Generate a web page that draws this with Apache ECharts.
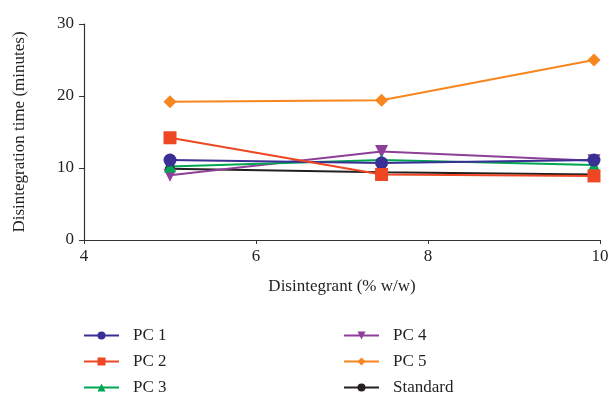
<!DOCTYPE html>
<html>
<head>
<meta charset="utf-8">
<script src="https://cdn.jsdelivr.net/npm/echarts@6/dist/echarts.min.js"></script>
<style>html,body{margin:0;padding:0;background:#fff}#c{width:613px;height:400px}</style>
</head>
<body>
<div id="c"></div>
<script>
const xValues = [5, 7.46, 9.93];
const pc1 = [11.1, 10.7, 11.1];
const pc2 = [14.2, 9.1, 8.9];
const pc3 = [10.2, 11.1, 10.4];
const pc4 = [9.0, 12.3, 11.0];
const pc5 = [19.2, 19.4, 25.0];
const standard = [9.9, 9.4, 9.1];
const xTicks = [4, 6, 8, 10];
const yTicks = [0, 10, 20, 30];

const FONT = '"Liberation Serif", "DejaVu Serif", serif';
const TXT = '#231f20';
function pts(v){ return xValues.map((x,i)=>[x, v[i]]); }
function s(name, data, color, symbol, size, extra){
  return Object.assign({
    name, type:'line', data: pts(data), symbol, symbolSize: size,
    lineStyle:{color, width:2}, itemStyle:{color}, color,
    animation:false
  }, extra||{});
}
const legendCommon = {
  orient:'vertical', top:327, height:90, padding:0,
  itemWidth:35, itemHeight:10, itemGap:9,
  textStyle:{fontFamily:FONT, fontSize:17, color:TXT, padding:[0,0,0,9]}
};
const chart = echarts.init(document.getElementById('c'), null, {renderer:'canvas'});
chart.setOption({
  animation:false,
  backgroundColor:'#fff',
  grid:{left:84, right:13, top:24, bottom:160, containLabel:false},
  xAxis:{
    type:'value', min:xTicks[0], max:xTicks[xTicks.length-1], interval:2,
    name:'Disintegrant (% w/w)', nameLocation:'middle', nameGap:38,
    nameTextStyle:{fontFamily:FONT, fontSize:17, color:TXT},
    axisLine:{lineStyle:{color:'#333', width:1.2}},
    axisTick:{show:true, length:4, lineStyle:{color:'#333'}},
    axisLabel:{fontFamily:FONT, fontSize:17, color:TXT, margin:8},
    splitLine:{show:false}
  },
  yAxis:{
    type:'value', min:yTicks[0], max:yTicks[yTicks.length-1], interval:10,
    name:'Disintegration time (minutes)', nameLocation:'middle', nameGap:56,
    nameTextStyle:{fontFamily:FONT, fontSize:17, color:TXT},
    axisLine:{show:true, lineStyle:{color:'#333', width:1.2}},
    axisTick:{show:true, length:5, lineStyle:{color:'#333'}},
    axisLabel:{fontFamily:FONT, fontSize:17, color:TXT, margin:10},
    splitLine:{show:false}
  },
  legend:[
    Object.assign({data:['PC 1','PC 2','PC 3'], left:83}, legendCommon),
    Object.assign({data:['PC 4','PC 5','Standard'], left:343}, legendCommon)
  ],
  series:[
    s('Standard', standard, '#231f20', 'circle', 10),
    s('PC 4', pc4, '#8e3f98', 'triangle', 13, {symbolRotate:180}),
    s('PC 3', pc3, '#00a651', 'triangle', 12),
    s('PC 1', pc1, '#3a2f95', 'circle', 13),
    s('PC 2', pc2, '#ef4723', 'rect', 13),
    s('PC 5', pc5, '#f7861e', 'diamond', 13)
  ]
});
</script>
</body>
</html>
